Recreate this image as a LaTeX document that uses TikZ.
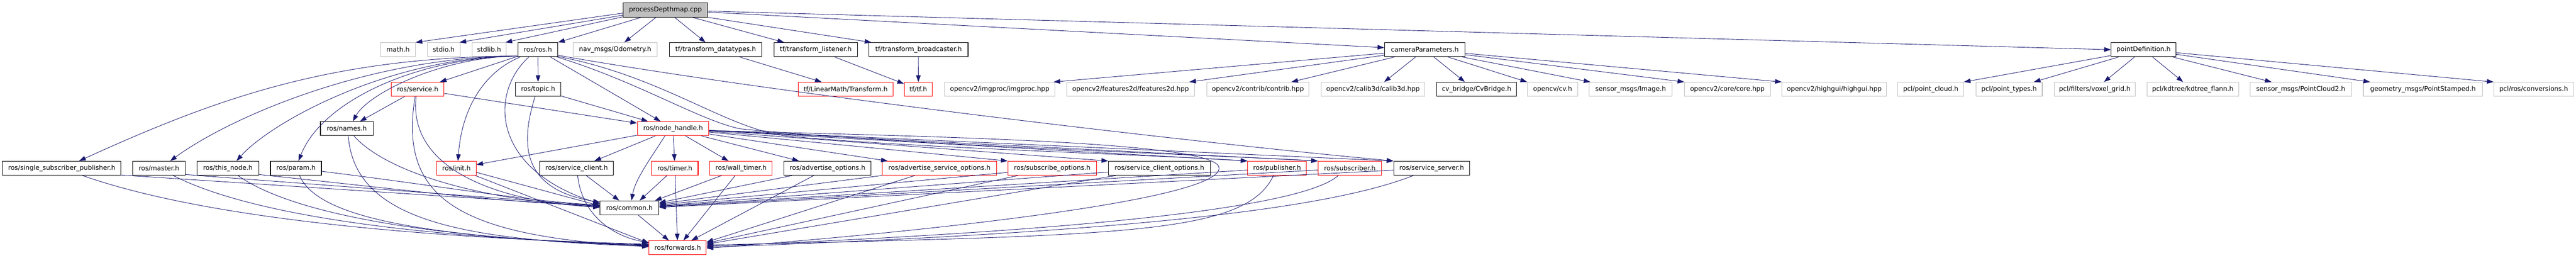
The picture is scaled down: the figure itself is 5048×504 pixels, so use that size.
\documentclass[tikz,border=0pt]{standalone}
\usepackage{fontspec}
\newfontfamily\dejavu{DejaVu Sans}
\usetikzlibrary{arrows.meta,calc}
\definecolor{edgecol}{RGB}{25,25,112}
\definecolor{graybd}{RGB}{191,191,191}
\definecolor{rootfill}{RGB}{191,191,191}
\begin{document}
\begin{tikzpicture}[x=1pt,y=-1pt,
  box/.style={line width=1.1pt, inner sep=0pt, minimum height=27.5pt, font=\dejavu\fontsize{12.7}{15}\selectfont},
  bbox/.style={box,draw=black},
  gbox/.style={box,draw=graybd},
  rbox/.style={box,draw=red},
  rootbox/.style={box,draw=black,fill=rootfill},
  edge/.style={draw=edgecol,line width=0.9pt,-{Triangle[length=13pt,width=9pt]}}]
\useasboundingbox (0,0) rectangle (5048,504);
% row 0
\node[rootbox, minimum width=166] (root) at (1304,19.7) {processDepthmap.cpp};
% row 1
\node[gbox, minimum width=68] (math) at (780,97.2) {math.h};
\node[gbox, minimum width=65] (stdio) at (869.5,97.2) {stdio.h};
\node[gbox, minimum width=67] (stdlib) at (958.5,97.2) {stdlib.h};
\node[bbox, minimum width=78] (rosros) at (1054,97.2) {ros/ros.h};
\node[gbox, minimum width=165] (odom) at (1205.5,97.2) {nav\_msgs/Odometry.h};
\node[bbox, minimum width=181] (tfdt) at (1402.5,97.2) {tf/transform\_datatypes.h};
\node[bbox, minimum width=163] (tfl) at (1598.5,97.2) {tf/transform\_listener.h};
\node[bbox, minimum width=194] (tfb) at (1800,97.2) {tf/transform\_broadcaster.h};
\node[bbox, minimum width=158] (cam) at (2792,97.2) {cameraParameters.h};
\node[bbox, minimum width=127] (pdef) at (4200.5,97.2) {pointDefinition.h};
% row 2
\node[rbox, minimum width=103] (service) at (818.5,174.7) {ros/service.h};
\node[bbox, minimum width=89] (topic) at (1054.5,174.7) {ros/topic.h};
\node[rbox, minimum width=186] (lmt) at (1657,174.7) {tf/LinearMath/Transform.h};
\node[rbox, minimum width=55] (tftf) at (1799.5,174.7) {tf/tf.h};
\node[gbox, minimum width=216] (imgproc) at (1959,174.7) {opencv2/imgproc/imgproc.hpp};
\node[gbox, minimum width=251] (feat) at (2215.5,174.7) {opencv2/features2d/features2d.hpp};
\node[gbox, minimum width=200] (contrib) at (2465,174.7) {opencv2/contrib/contrib.hpp};
\node[gbox, minimum width=203] (calib) at (2690.5,174.7) {opencv2/calib3d/calib3d.hpp};
\node[bbox, minimum width=157] (cvb) at (2893.5,174.7) {cv\_bridge/CvBridge.h};
\node[gbox, minimum width=99] (cvh) at (3042.5,174.7) {opencv/cv.h};
\node[gbox, minimum width=163] (simg) at (3195.5,174.7) {sensor\_msgs/Image.h};
\node[gbox, minimum width=168] (core) at (3385,174.7) {opencv2/core/core.hpp};
\node[gbox, minimum width=205] (highgui) at (3594.5,174.7) {opencv2/highgui/highgui.hpp};
\node[gbox, minimum width=129] (pcloud) at (3783.5,174.7) {pcl/point\_cloud.h};
\node[gbox, minimum width=130] (ptypes) at (3937,174.7) {pcl/point\_types.h};
\node[gbox, minimum width=158] (voxel) at (4105,174.7) {pcl/filters/voxel\_grid.h};
\node[gbox, minimum width=180] (kdtree) at (4297,174.7) {pcl/kdtree/kdtree\_flann.h};
\node[gbox, minimum width=199] (pc2) at (4508.5,174.7) {sensor\_msgs/PointCloud2.h};
\node[gbox, minimum width=234] (pstamp) at (4748,174.7) {geometry\_msgs/PointStamped.h};
\node[gbox, minimum width=156] (conv) at (4965,174.7) {pcl/ros/conversions.h};
% row 3
\node[bbox, minimum width=103] (names) at (679.5,251.7) {ros/names.h};
\node[rbox, minimum width=140] (nh) at (1319,251.7) {ros/node\_handle.h};
% row 4
\node[bbox, minimum width=232] (ssp) at (121,329.2) {ros/single\_subscriber\_publisher.h};
\node[bbox, minimum width=103] (master) at (311.5,329.2) {ros/master.h};
\node[bbox, minimum width=121] (thisnode) at (446.5,329.2) {ros/this\_node.h};
\node[bbox, minimum width=100] (param) at (580,329.2) {ros/param.h};
\node[rbox, minimum width=77] (init) at (894.5,329.2) {ros/init.h};
\node[bbox, minimum width=144] (sclient) at (1130,329.2) {ros/service\_client.h};
\node[rbox, minimum width=91] (timer) at (1322.5,329.2) {ros/timer.h};
\node[rbox, minimum width=122] (wtimer) at (1452,329.2) {ros/wall\_timer.h};
\node[bbox, minimum width=171] (adv) at (1621.5,329.2) {ros/advertise\_options.h};
\node[rbox, minimum width=224] (advsrv) at (1841,329.2) {ros/advertise\_service\_options.h};
\node[rbox, minimum width=174] (subopt) at (2062,329.2) {ros/subscribe\_options.h};
\node[bbox, minimum width=200] (scopt) at (2272,329.2) {ros/service\_client\_options.h};
\node[rbox, minimum width=115] (pub) at (2502.5,329.2) {ros/publisher.h};
\node[rbox, minimum width=124] (sub) at (2645,329.2) {ros/subscriber.h};
\node[bbox, minimum width=149] (ssrv) at (2805.5,329.2) {ros/service\_server.h};
% row 5, 6
\node[bbox, minimum width=115] (common) at (1233.5,406.7) {ros/common.h};
\node[rbox, minimum width=112] (fwd) at (1328,484.7) {ros/forwards.h};

% ---- edges from root
\draw[edge] ($(root.west)+(0,6)$) -- (math.north east);
\draw[edge] ($(root.west)+(0,10)$) -- ($(stdio.north east)+(-2,0)$);
\draw[edge] ($(root.south west)+(0,-1)$) -- ($(stdlib.north east)+(-2,0)$);
\draw[edge] ($(root.south west)+(36,0)$) -- (rosros.north east);
\draw[edge] ($(root.south west)+(65,0)$) -- ($(odom.north)+(18,0)$);
\draw[edge] ($(root.south)+(18,0)$) -- ($(tfdt.north)+(-20,0)$);
\draw[edge] ($(root.south)+(53,0)$) -- ($(tfl.north west)+(20,0)$);
\draw[edge] (root.south east) -- ($(tfb.north west)+(5,0)$);
\draw[edge] ($(root.east)+(0,4)$) -- ($(cam.west)+(0,-4)$);
\draw[edge] ($(root.east)+(0,2)$) -- (pdef.west);
% ---- tf
\draw[edge] (tfdt) -- (lmt);
\draw[edge] (tfl) -- (tftf);
\draw[edge] (tfb) -- (tftf);
% ---- cameraParameters
\draw[edge] (cam) -- ($(imgproc.north east)+(-3,0)$);
\draw[edge] (cam) -- ($(feat.north east)+(-11,0)$);
\draw[edge] (cam) -- ($(contrib.north east)+(-35,0)$);
\draw[edge] (cam) -- ($(calib.north)+(22,0)$);
\draw[edge] (cam) -- ($(cvb.north)+(-23,0)$);
\draw[edge] (cam) -- (cvh.north west);
\draw[edge] (cam) -- ($(simg.north west)+(3,0)$);
\draw[edge] (cam) -- (core.north west);
\draw[edge] (cam) -- (highgui.north west);
% ---- pointDefinition
\draw[edge] (pdef) -- (pcloud.north east);
\draw[edge] (pdef) -- ($(ptypes.north east)+(-17,0)$);
\draw[edge] (pdef) -- ($(voxel.north)+(18,0)$);
\draw[edge] (pdef) -- ($(kdtree.north)+(-19,0)$);
\draw[edge] (pdef) -- ($(pc2.north west)+(43,0)$);
\draw[edge] (pdef) -- ($(pstamp.north west)+(14,0)$);
\draw[edge] (pdef) -- (conv.north west);
% ---- ros/ros.h
\draw[edge] ($(rosros.south west)+(0,-2)$) .. controls (650,112) and (430,190) .. ($(ssp.north)+(34,0)$);
\draw[edge] ($(rosros.south west)+(0,-2)$) .. controls (720,112) and (450,230) .. ($(master.north)+(22,0)$);
\draw[edge] ($(rosros.south west)+(0,-2)$) .. controls (760,112) and (530,240) .. ($(thisnode.north)+(17,0)$);
\draw[edge] ($(rosros.south west)+(0,-2)$) .. controls (810,114) and (630,200) .. ($(param.north)+(5,0)$);
\draw[edge] ($(rosros.south west)+(0,-2)$) .. controls (860,112) and (720,185) .. ($(names.north)+(12,0)$);
\draw[edge] (rosros) -- (service);
\draw[edge] ($(rosros.south west)+(5,0)$) .. controls (950,140) and (905,210) .. ($(init.north)+(3,0)$);
\draw[edge] ($(rosros.south west)+(22,0)$) .. controls (960,180) and (960,330) .. ($(common.west)+(0,-8)$);
\draw[edge] (rosros) -- (topic);
\draw[edge] (rosros) -- (nh);
\draw[edge] ($(rosros.east)+(0,11)$) .. controls (1500,180) and (2300,275) .. (ssrv.north west);
\draw[edge] ($(rosros.south east)+(0,-1)$) .. controls (1300,150) and (1420,250) .. (1540,266) .. controls (1800,290) and (2200,300) .. (pub.north west);
\draw[edge] ($(rosros.south east)+(-2,0)$) .. controls (1250,160) and (1370,235) .. (1450,252) .. controls (1800,285) and (2300,300) .. (sub.north west);
% ---- service, topic
\draw[edge] (service) -- (names);
\draw[edge] (service) -- (nh);
\draw[edge] (topic) -- (nh);
% ---- node_handle
\draw[edge] (nh) -- (init);
\draw[edge] (nh) -- (sclient);
\draw[edge] ($(nh.south)+(-16,0)$) .. controls (1275,310) and (1245,350) .. ($(common.north)+(4,0)$);
\draw[edge] (nh) -- (timer);
\draw[edge] (nh) -- (wtimer);
\draw[edge] (nh) -- (adv);
\draw[edge] (nh) -- ($(advsrv.north west)+(11,0)$);
\draw[edge] (nh) -- (subopt.north west);
\draw[edge] (nh) -- (scopt.north west);
\draw[edge] (nh) -- (pub.north west);
\draw[edge] (nh) -- (sub.north west);
\draw[edge] (nh) -- (ssrv.north west);
\draw[edge] ($(nh.east)+(0,4)$) .. controls (1900,268) and (2389,280) .. (2389,329) .. controls (2389,392) and (1800,455) .. ($(fwd.east)+(0,1)$);
% ---- into common from the left
\draw[edge] ($(ssp.south east)+(0,-1)$) -- ($(common.west)+(0,-3)$);
\draw[edge] ($(master.south east)+(0,-2)$) -- ($(common.west)+(0,-4)$);
\draw[edge] ($(thisnode.south east)+(0,-2)$) .. controls (800,372) and (1000,398) .. ($(common.west)+(0,-5)$);
\draw[edge] ($(param.east)+(0,6)$) .. controls (850,362) and (1050,396) .. ($(common.west)+(0,-6)$);
\draw[edge] ($(names.south)+(14,0)$) .. controls (760,340) and (950,392) .. ($(common.west)+(0,-2)$);
\draw[edge] ($(service.south)+(-3,0)$) .. controls (800,320) and (950,392) .. ($(common.west)+(0,-1)$);
\draw[edge] ($(topic.south)+(-6,0)$) .. controls (1020,280) and (1020,370) .. ($(common.west)+(0,-11)$);
\draw[edge] ($(init.east)+(0,8)$) -- ($(common.west)+(0,-4)$);
% ---- into common from above / right
\draw[edge] (sclient) -- ($(common.north)+(-20,0)$);
\draw[edge] (timer) -- ($(common.north)+(20,0)$);
\draw[edge] (wtimer) -- ($(common.north east)+(-8,0)$);
\draw[edge] (adv) -- ($(common.east)+(0,-10)$);
\draw[edge] (advsrv) -- ($(common.east)+(0,-8)$);
\draw[edge] (subopt) -- ($(common.east)+(0,-6)$);
\draw[edge] (scopt) -- ($(common.east)+(0,-4)$);
\draw[edge] (pub) -- ($(common.east)+(0,-3)$);
\draw[edge] (sub) -- ($(common.east)+(0,-2)$);
\draw[edge] (ssrv) -- ($(common.east)+(0,-1)$);
% ---- into forwards from the left
\draw[edge] ($(ssp.south)+(41,0)$) .. controls (350,410) and (700,462) .. ($(fwd.west)+(0,-7)$);
\draw[edge] ($(master.south)+(28,0)$) .. controls (450,400) and (700,462) .. ($(fwd.west)+(0,-6)$);
\draw[edge] ($(thisnode.south)+(20,0)$) .. controls (560,410) and (800,466) .. ($(fwd.west)+(0,-5)$);
\draw[edge] ($(param.south)+(7,0)$) .. controls (620,420) and (800,464) .. ($(fwd.west)+(0,-4)$);
\draw[edge] ($(names.south)+(3,0)$) .. controls (695,430) and (900,470) .. ($(fwd.west)+(0,-3)$);
\draw[edge] ($(service.south)+(-5,0)$) .. controls (780,390) and (900,462) .. ($(fwd.west)+(0,-2)$);
\draw[edge] ($(init.south east)+(-2,0)$) -- ($(fwd.west)+(0,-9)$);
\draw[edge] ($(sclient.south)+(2,0)$) .. controls (1140,420) and (1200,462) .. ($(fwd.west)+(0,-10)$);
% ---- into forwards from above / right
\draw[edge] (common) -- (fwd);
\draw[edge] (timer) -- (fwd);
\draw[edge] (wtimer) -- (fwd);
\draw[edge] (adv) -- (fwd);
\draw[edge] ($(advsrv.south west)+(64,0)$) -- ($(fwd.east)+(0,-11)$);
\draw[edge] ($(subopt.south west)+(20,0)$) -- ($(fwd.east)+(0,-9)$);
\draw[edge] ($(scopt.south west)+(15,0)$) -- ($(fwd.east)+(0,-7)$);
\draw[edge] ($(pub.south)+(-7,0)$) .. controls (2440,460) and (2200,460) .. ($(fwd.east)+(0,-5)$);
\draw[edge] ($(sub.south west)+(40,0)$) .. controls (2570,390) and (2300,445) .. ($(fwd.east)+(0,-3)$);
\draw[edge] ($(ssrv.south west)+(39,0)$) .. controls (2600,410) and (2200,455) .. ($(fwd.east)+(0,-1)$);
\end{tikzpicture}
\end{document}
